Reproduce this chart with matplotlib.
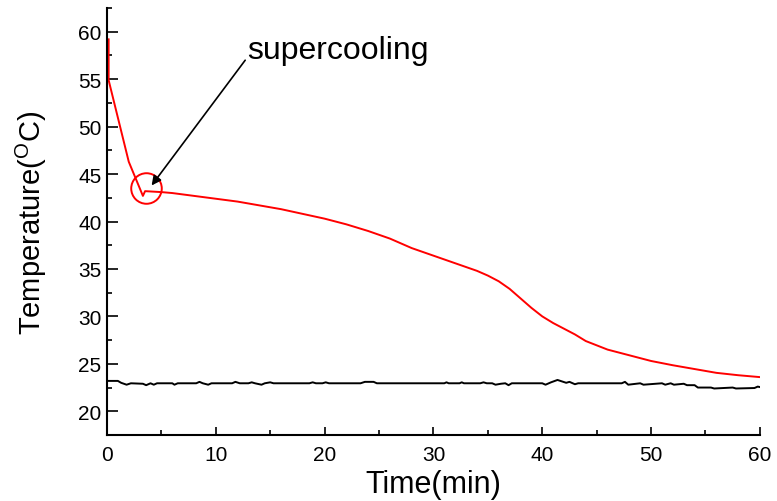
import matplotlib.pyplot as plt
from matplotlib.ticker import MultipleLocator

plt.rcParams['font.family'] = ['Liberation Sans', 'DejaVu Sans']
plt.rcParams['mathtext.fontset'] = 'custom'
plt.rcParams['mathtext.rm'] = 'Liberation Sans'

# sample temperature (red)
t_sample = [0.15, 0.15, 2.0, 3.3, 3.5, 5, 6, 8, 10, 12, 14, 16, 18, 20, 22, 24, 26, 28,
            30, 32, 34, 35, 36, 37, 38, 39, 40, 41, 42, 43, 44, 46, 48, 50, 52, 54, 56, 58, 60]
T_sample = [59.2, 54.9, 46.3, 42.7, 43.2, 43.1, 43.0, 42.7, 42.4, 42.1, 41.7, 41.3, 40.8,
            40.3, 39.7, 39.0, 38.2, 37.2, 36.4, 35.6, 34.8, 34.3, 33.7, 32.9, 31.9, 30.9,
            30.0, 29.3, 28.7, 28.1, 27.4, 26.5, 25.9, 25.3, 24.85, 24.45, 24.05, 23.8, 23.6]

# ambient temperature (black)
t_amb = [0, 1.0, 1.3, 1.8, 2.2, 3.3, 3.6, 4.0, 4.3, 4.6, 6.0, 6.2, 6.5, 8.2, 8.5, 8.8,
         9.3, 9.6, 11.5, 11.8, 12.2, 13.0, 13.3, 13.6, 14.2, 14.5, 15.0, 15.3, 18.6,
         18.9, 19.2, 19.8, 20.1, 20.4, 23.3, 23.7, 24.5, 24.8, 31.0, 31.2, 31.4, 32.4,
         32.6, 32.8, 34.3, 34.6, 34.9, 35.4, 35.7, 36.2, 36.6, 36.9, 37.2, 40.0, 40.3,
         40.8, 41.4, 41.8, 42.2, 42.5, 43.0, 43.3, 45.0, 47.3, 47.6, 47.9, 49.0, 49.3,
         51.0, 51.3, 51.8, 52.1, 53.0, 53.3, 54.0, 54.3, 55.5, 55.8, 57.5, 57.8, 59.5,
         59.8, 60]
T_amb = [23.2, 23.2, 23.0, 22.8, 22.95, 22.9, 22.75, 22.95, 22.8, 22.95, 22.95, 22.8,
         22.95, 22.95, 23.1, 22.95, 22.8, 22.95, 22.95, 23.1, 22.95, 22.95, 23.05, 22.95,
         22.8, 22.95, 23.05, 22.95, 22.95, 23.05, 22.95, 22.95, 23.05, 22.95, 22.95, 23.1,
         23.1, 22.95, 22.95, 23.05, 22.95, 22.95, 23.05, 22.95, 22.95, 23.05, 22.95, 22.95,
         22.8, 22.9, 22.95, 22.75, 22.95, 22.95, 22.8, 23.05, 23.3, 23.15, 23.0, 23.1,
         22.85, 22.95, 22.95, 22.95, 23.1, 22.8, 22.95, 22.8, 22.95, 22.8, 22.95, 22.8,
         22.9, 22.75, 22.75, 22.5, 22.5, 22.4, 22.5, 22.4, 22.45, 22.6, 22.55]

circle_xy = (3.6, 43.5)
arrow_tip = (4.1, 43.8)
arrow_tail = (12.7, 57.0)
label_xy = (12.9, 58.1)

fig = plt.figure(figsize=(7.77, 5.02), dpi=100)
ax = fig.add_axes([0.1377, 0.1315, 0.8403, 0.8505])

ax.plot(t_amb, T_amb, color='black', lw=1.4)
ax.plot(t_sample, T_sample, color='red', lw=1.4)

ax.plot(*circle_xy, 'o', ms=22, mfc='none', mec='red', mew=1.4)
ax.annotate('', xy=arrow_tip, xytext=arrow_tail,
            arrowprops=dict(arrowstyle='-|>', color='black', lw=1.2,
                            mutation_scale=14, shrinkA=0, shrinkB=0))
ax.text(*label_xy, 'supercooling', fontsize=23, ha='left', va='center')

ax.set_xlim(0, 60)
ax.set_ylim(17.5, 62.5)
ax.xaxis.set_major_locator(MultipleLocator(10))
ax.xaxis.set_minor_locator(MultipleLocator(5))
ax.yaxis.set_major_locator(MultipleLocator(5))
ax.yaxis.set_minor_locator(MultipleLocator(2.5))
ax.tick_params(which='both', direction='in', width=1.2, labelsize=15)
ax.tick_params(axis='y', which='major', length=8)
ax.tick_params(axis='x', which='major', length=5.5)
ax.tick_params(which='minor', length=3.6)
ax.tick_params(axis='x', pad=7)
ax.tick_params(axis='y', pad=4)

for side in ['top', 'right']:
    ax.spines[side].set_visible(False)
for side in ['left', 'bottom']:
    ax.spines[side].set_linewidth(1.5)

ax.set_xlabel('Time(min)', fontsize=22, labelpad=4)
ax.set_ylabel('Temperature($^\\mathrm{O}$C)', fontsize=21, labelpad=21)

fig.savefig('out.png')
